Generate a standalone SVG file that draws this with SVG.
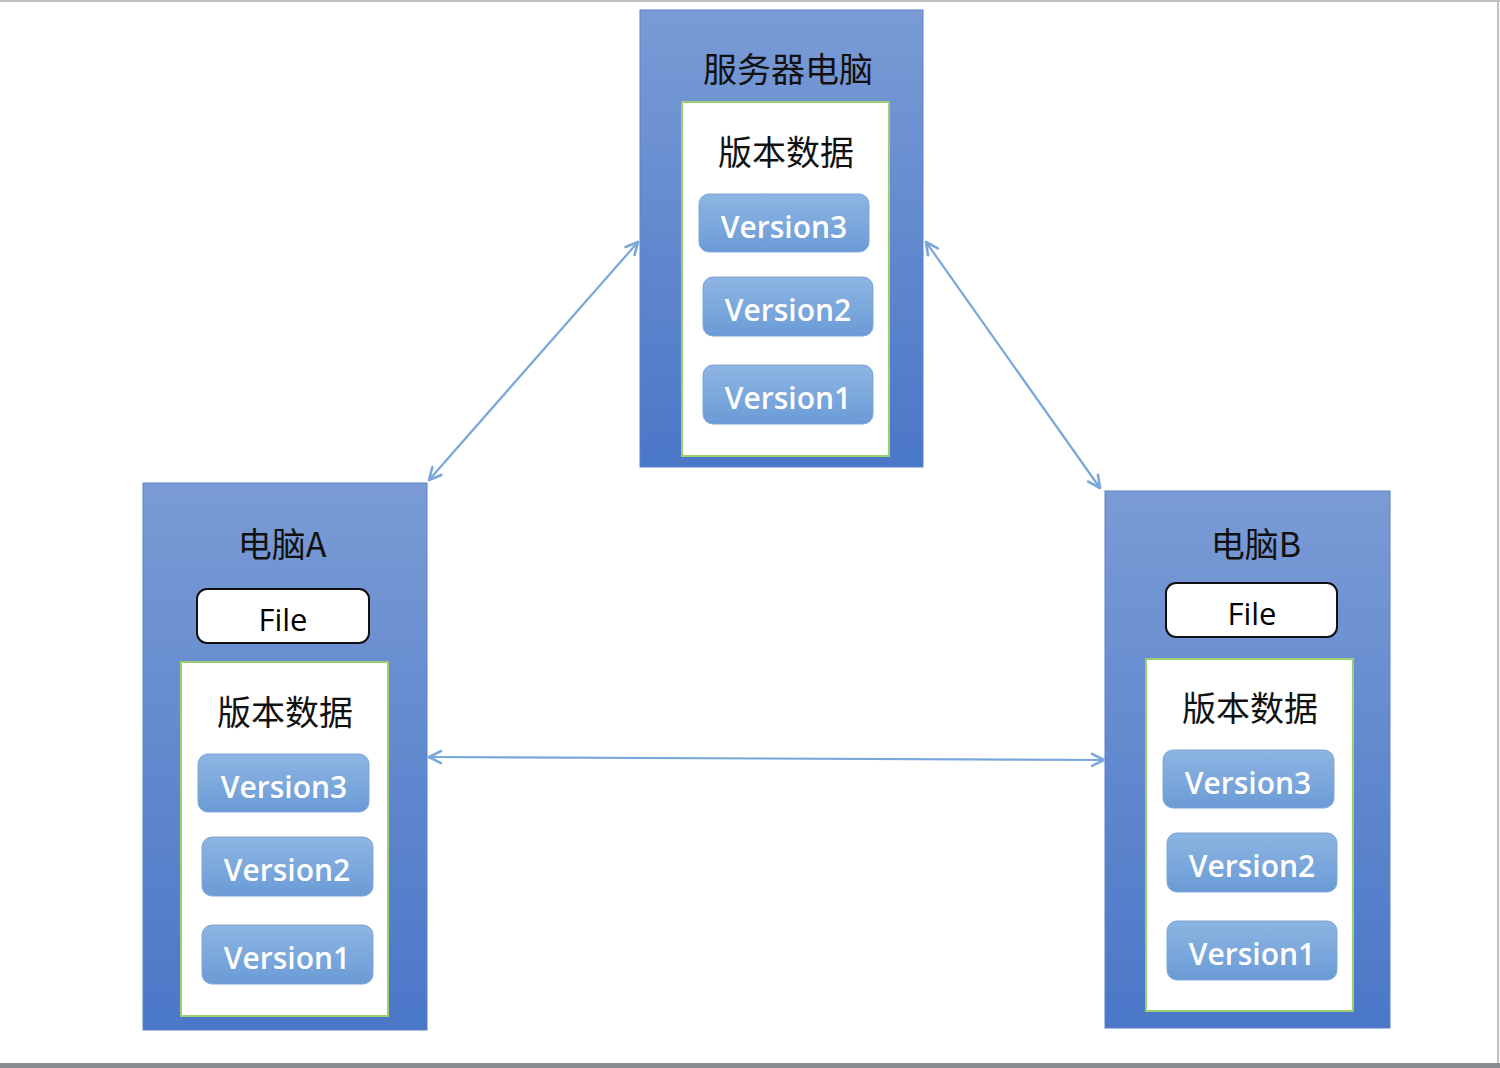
<svg xmlns="http://www.w3.org/2000/svg" width="1500" height="1068" viewBox="0 0 1500 1068">
<defs>
<linearGradient id="outer" x1="0" y1="0" x2="0" y2="1">
<stop offset="0" stop-color="#7a9bd5"/>
<stop offset="1" stop-color="#4a77c7"/>
</linearGradient>
<linearGradient id="ver" x1="0" y1="0" x2="0" y2="1">
<stop offset="0" stop-color="#8db5e2"/>
<stop offset="1" stop-color="#6b9bd6"/>
</linearGradient>
<marker id="ah" viewBox="0 0 16 16" refX="14" refY="8" markerWidth="16" markerHeight="16" markerUnits="userSpaceOnUse" orient="auto-start-reverse">
<path d="M2,2 L14,8 L2,14" fill="none" stroke="#7aa7d9" stroke-width="2.6" stroke-linecap="round" stroke-linejoin="round"/>
</marker>
</defs>
<style>
.outer{fill:url(#outer);stroke:#5a82c8;stroke-width:1}
.inner{fill:#ffffff;stroke:#9ccf72;stroke-width:2}
.ver{fill:url(#ver);stroke:#7ea6d6;stroke-width:1}
.file{fill:#ffffff;stroke:#111111;stroke-width:2}
.vt{font-family:"Open Sans","Liberation Sans",sans-serif;font-size:30px;font-weight:600;fill:#ffffff;text-anchor:middle}
.ft{font-family:"Open Sans","Liberation Sans",sans-serif;font-size:31px;font-weight:500;fill:#000000;text-anchor:middle}
.ct{font-family:"Noto Sans CJK SC","Noto Sans",sans-serif;font-size:34px;fill:#111111;text-anchor:middle;font-weight:400}
.conn{stroke:#7aa7d9;stroke-width:2.2;fill:none;marker-start:url(#ah);marker-end:url(#ah)}
</style>
<rect x="0" y="0" width="1500" height="1068" fill="#ffffff"/>
<line x1="0" y1="1" x2="1500" y2="1" stroke="#c0c0c0" stroke-width="2"/>
<line x1="1498" y1="0" x2="1498" y2="1063" stroke="#c0c0c0" stroke-width="2"/>
<rect x="0" y="1063" width="1500" height="5" fill="#8a8d92"/>

<g id="server">
<rect class="outer" x="640" y="10" width="283" height="457"/>
<text class="ct" x="788" y="82">服务器电脑</text>
<rect class="inner" x="682" y="102" width="207" height="354"/>
<text class="ct" x="786" y="165">版本数据</text>
<g id="server-v3"><rect class="ver" x="699" y="194" width="170" height="58" rx="10"/><text class="vt" x="784" y="238">Version3</text></g>
<g id="server-v2"><rect class="ver" x="703" y="277" width="170" height="59" rx="10"/><text class="vt" x="788" y="321">Version2</text></g>
<g id="server-v1"><rect class="ver" x="703" y="365" width="170" height="59" rx="10"/><text class="vt" x="788" y="409">Version1</text></g>
</g>

<g id="pcA">
<rect class="outer" x="143" y="483" width="284" height="547"/>
<text class="ct" x="282" y="557">电脑A</text>
<g id="pcA-file"><rect class="file" x="197" y="589" width="172" height="54" rx="10"/><text class="ft" x="283" y="631">File</text></g>
<rect class="inner" x="181" y="662" width="207" height="354"/>
<text class="ct" x="285" y="725">版本数据</text>
<g id="pcA-v3"><rect class="ver" x="198" y="754" width="171" height="58" rx="10"/><text class="vt" x="284" y="798">Version3</text></g>
<g id="pcA-v2"><rect class="ver" x="202" y="837" width="171" height="59" rx="10"/><text class="vt" x="287" y="881">Version2</text></g>
<g id="pcA-v1"><rect class="ver" x="202" y="925" width="171" height="59" rx="10"/><text class="vt" x="287" y="969">Version1</text></g>
</g>

<g id="pcB">
<rect class="outer" x="1105" y="491" width="285" height="537"/>
<text class="ct" x="1256" y="557">电脑B</text>
<g id="pcB-file"><rect class="file" x="1166" y="583" width="171" height="54" rx="10"/><text class="ft" x="1252" y="625">File</text></g>
<rect class="inner" x="1146" y="659" width="207" height="352"/>
<text class="ct" x="1250" y="721">版本数据</text>
<g id="pcB-v3"><rect class="ver" x="1163" y="750" width="171" height="58" rx="10"/><text class="vt" x="1248" y="794">Version3</text></g>
<g id="pcB-v2"><rect class="ver" x="1167" y="833" width="170" height="59" rx="10"/><text class="vt" x="1252" y="877">Version2</text></g>
<g id="pcB-v1"><rect class="ver" x="1167" y="921" width="170" height="59" rx="10"/><text class="vt" x="1252" y="965">Version1</text></g>
</g>

<g id="connectors">
<line class="conn" x1="429" y1="480" x2="638" y2="242"/>
<line class="conn" x1="926" y1="242" x2="1100" y2="488"/>
<line class="conn" x1="429" y1="757" x2="1104" y2="760"/>
</g>
</svg>
